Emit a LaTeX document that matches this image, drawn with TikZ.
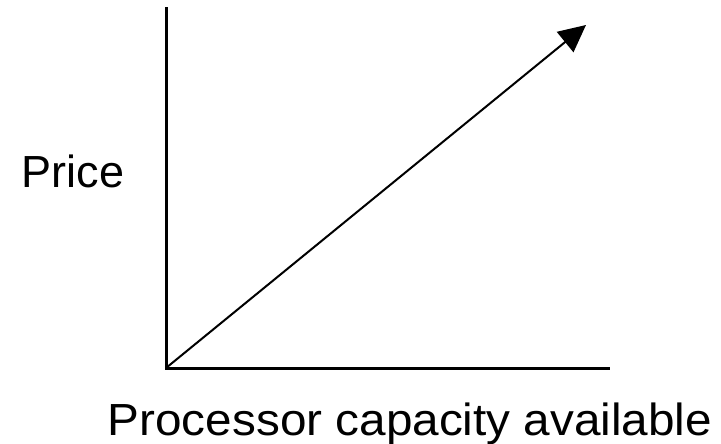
\documentclass[tikz,border=0pt]{standalone}
\usepackage{fontspec}
\setmainfont{Liberation Sans}
\usetikzlibrary{arrows.meta}
\begin{document}
\begin{tikzpicture}[x=1pt,y=-1pt,
  axis/.style={line width=3pt,line cap=rect},
  trend/.style={line width=2pt,-{Triangle[length=27pt,width=26pt]}},
  lbl/.style={anchor=base,inner sep=0pt,font=\fontsize{45}{54}\selectfont}]
\useasboundingbox (0,0) rectangle (721,444);
\coordinate (O) at (166,368);
\coordinate (ytop) at (166,9);
\coordinate (xend) at (608,368);
\coordinate (tip) at (586,25);
\draw[axis] (ytop) -- (O) -- (xend);
\draw[trend] (O) -- (tip);
\node[lbl] (price) at (73,187) {Price};
\node[lbl,font=\fontsize{45}{54}\selectfont\addfontfeature{FakeStretch=1.06}] (cap) at (410,435) {Processor capacity available};
\end{tikzpicture}
\end{document}
